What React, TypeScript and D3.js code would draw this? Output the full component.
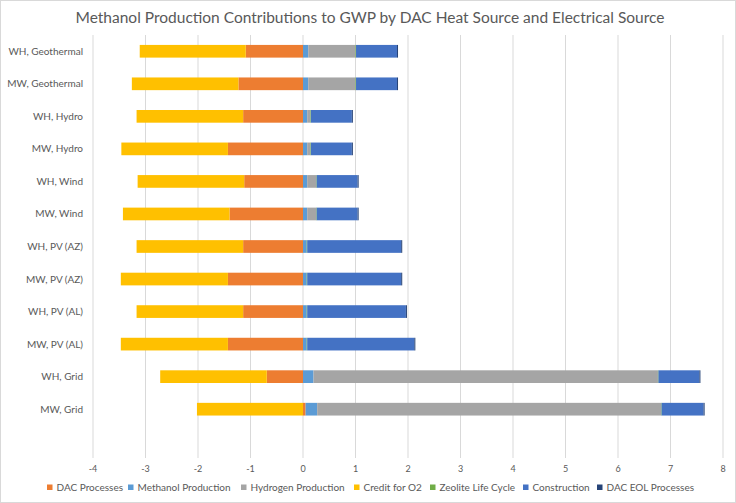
import React from "react";
import * as d3 from "d3";

const categories = [
  "WH, Geothermal", "MW, Geothermal", "WH, Hydro", "MW, Hydro", "WH, Wind", "MW, Wind",
  "WH, PV (AZ)", "MW, PV (AZ)", "WH, PV (AL)", "MW, PV (AL)", "WH, Grid", "MW, Grid", "",
];
const seriesNames = [
  "DAC Processes", "Methanol Production", "Hydrogen Production", "Credit for O2",
  "Zeolite Life Cycle", "Construction", "DAC EOL Processes",
];
const dacProcesses = [-1.09, -1.23, -1.14, -1.43, -1.12, -1.40, -1.14, -1.43, -1.14, -1.43, -0.69, 0.05, 0];
const methanolProduction = [0.10, 0.10, 0.08, 0.08, 0.08, 0.08, 0.07, 0.07, 0.07, 0.07, 0.20, 0.22, 0];
const hydrogenProduction = [0.90, 0.90, 0.06, 0.06, 0.17, 0.17, 0.0, 0.0, 0.0, 0.0, 6.56, 6.55, 0];
const creditForO2 = [-2.02, -2.03, -2.03, -2.03, -2.03, -2.03, -2.03, -2.04, -2.03, -2.04, -2.03, -2.02, 0];
const zeoliteLifeCycle = [0.01, 0.01, 0.01, 0.01, 0.01, 0.01, 0.01, 0.01, 0.01, 0.01, 0.01, 0.01, 0];
const construction = [0.78, 0.78, 0.78, 0.78, 0.78, 0.78, 1.79, 1.79, 1.88, 2.04, 0.78, 0.80, 0];
const dacEOL = [0.02, 0.02, 0.02, 0.02, 0.02, 0.02, 0.02, 0.02, 0.02, 0.02, 0.02, 0.02, 0];
const xTicks = [-4, -3, -2, -1, 0, 1, 2, 3, 4, 5, 6, 7, 8];
const colors = ["#ED7D31", "#5B9BD5", "#A5A5A5", "#FFC000", "#70AD47", "#4472C4", "#264478"];
const title = "Methanol Production Contributions to GWP by DAC Heat Source and Electrical Source";

export default function App() {
  const W = 736, H = 503;
  const left = 93, right = 723, top = 35, bottom = 458;
  const seriesVals = [dacProcesses, methanolProduction, hydrogenProduction, creditForO2, zeoliteLifeCycle, construction, dacEOL];
  const rows = categories.map((c, i) => {
    const r: any = { cat: c };
    seriesNames.forEach((s, j) => (r[s] = seriesVals[j][i]));
    return r;
  });
  const stack = d3.stack<any>().keys(seriesNames).order(d3.stackOrderNone).offset(d3.stackOffsetDiverging);
  const stacked = stack(rows);
  const x = d3.scaleLinear().domain([-4, 8]).range([left, right]);
  const y = d3.scaleBand<string>().domain(categories).range([top, bottom]).paddingInner(0.61).paddingOuter(0.305);
  const font = "Lato, 'Open Sans', sans-serif";
  const legendX = [47, 128, 241, 354, 430, 523, 597];
  return (
    <div style={{ position: "absolute", left: 0, top: 0 }}>
      <svg width={W} height={H} style={{ display: "block", fontFamily: font }}>
        <rect x={0.5} y={0.5} width={W - 1} height={H - 1} fill="#fff" stroke="#d9d9d9" />
        <text x={W / 2 + 2} y={23} textAnchor="middle" fontSize={15.5} fill="#595959">{title}</text>
        {xTicks.map((t) => (
          <g key={t}>
            <line x1={x(t)} x2={x(t)} y1={top} y2={bottom} stroke="#d9d9d9" strokeWidth={1} />
            <text x={x(t)} y={469} dy="0.35em" textAnchor="middle" fontSize={9} fill="#595959">{t}</text>
          </g>
        ))}
        {stacked.map((s, si) => (
          <g key={s.key} fill={colors[si]}>
            {s.map((d, i) => {
              const x0 = x(Math.min(d[0], d[1]));
              const x1 = x(Math.max(d[0], d[1]));
              if (x1 - x0 <= 0) return null;
              return <rect key={i} x={x0} y={y(categories[i])!} width={x1 - x0} height={y.bandwidth()} />;
            })}
          </g>
        ))}
        {categories.map((c) => (
          <text key={c} x={83} y={y(c)! + y.bandwidth() / 2} dy="0.35em" textAnchor="end" fontSize={10} fill="#595959">{c}</text>
        ))}
        {seriesNames.map((s, i) => (
          <g key={s} transform={`translate(${legendX[i]},487)`}>
            <rect x={0} y={-2.5} width={5.5} height={5.5} fill={colors[i]} />
            <text x={9.5} y={0} dy="0.35em" fontSize={10} fill="#595959">{s}</text>
          </g>
        ))}
      </svg>
    </div>
  );
}
